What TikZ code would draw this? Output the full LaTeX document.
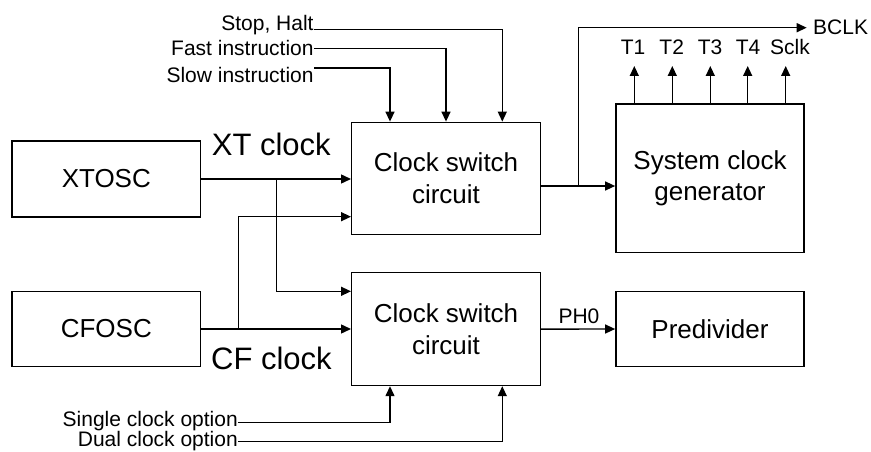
\documentclass[tikz,border=0pt]{standalone}
\usepackage{fontspec}
\setmainfont{Liberation Sans}
\usetikzlibrary{arrows.meta}
\begin{document}
\begin{tikzpicture}[x=1pt,y=-1pt,
  box/.style={draw, line width=1.4pt, inner sep=0pt, align=center, font=\fontsize{26}{31.5}\selectfont},
  arr/.style={line width=1.4pt, -{Triangle[length=10pt,width=9pt]}},
  small/.style={inner sep=0pt, font=\fontsize{21}{25}\selectfont},
  big/.style={inner sep=0pt, font=\fontsize{31}{37}\selectfont}]
\useasboundingbox (0,0) rectangle (871,452);
% boxes
\node[box, minimum width=188.7pt, minimum height=76pt] (xt) at (106.3,179) {XTOSC};
\node[box, minimum width=188.7pt, minimum height=75.4pt] (cf) at (106.3,329) {CFOSC};
\node[box, minimum width=188.6pt, minimum height=112pt] (cs1) at (446,178.3) {Clock switch\\circuit};
\node[box, minimum width=188.6pt, minimum height=112.8pt] (cs2) at (446,329.1) {Clock switch\\circuit};
\node[box, minimum width=188.3pt, minimum height=148.7pt] (scg) at (710,178.3) {System clock\\generator};
\node[box, minimum width=188.3pt, minimum height=75.4pt] (pred) at (710,329) {Predivider};
% labels
\node[big, anchor=base west] (xtl) at (211.7,155) {XT clock};
\node[big, anchor=base west] (cfl) at (211,369.3) {CF clock};
\node[small, anchor=base east] (sh) at (313.8,30.3) {Stop, Halt};
\node[small, anchor=base east] (fi) at (313.8,55.2) {Fast instruction};
\node[small, anchor=base east] (si) at (313.8,82.1) {Slow instruction};
\node[small, anchor=base east] (sc) at (238,426) {Single clock option};
\node[small, anchor=base east] (dc) at (238,446.5) {Dual clock option};
\node[small, anchor=base west] (bl) at (813,34.3) {BCLK};
\node[small, anchor=base west] (ph) at (558.3,323.3) {PH0};
\node[small, anchor=base] (l1) at (633,55) {T1};
\node[small, anchor=base] (l2) at (671.7,55) {T2};
\node[small, anchor=base] (l3) at (710,55) {T3};
\node[small, anchor=base] (l4) at (748,55) {T4};
\node[small, anchor=base] (l5) at (790,55) {Sclk};
% coordinates
\coordinate (j1) at (276.3,179);
\coordinate (j2) at (238.7,329);
\coordinate (j3) at (578.3,186);
\coordinate (bclk) at (806.7,27.7);
\coordinate (pSH) at (314,29.3);
\coordinate (pFI) at (314,48.6);
\coordinate (pSI) at (314,68);
\coordinate (pSC) at (238,422.7);
\coordinate (pDC) at (238,441.7);
\coordinate (t1) at (634.3,66);
\coordinate (t2) at (672.3,66);
\coordinate (t3) at (710.3,66);
\coordinate (t4) at (747.7,66);
\coordinate (t5) at (785.7,66);
% connectors
\draw[arr] (xt.east) -- (xt.east -| cs1.west);
\draw[arr] (cf.east) -- (cf.east -| cs2.west);
\draw[arr] (j1) |- ([yshift=37.8pt]cs2.west);
\draw[arr] (j2) |- ([yshift=-38.4pt]cs1.west);
\draw[arr] ([yshift=-7.7pt]cs1.east) -- ([yshift=-7.7pt]scg.west);
\draw[arr] (j3) |- (bclk);
\draw[arr] (pSH) -| ([xshift=56.3pt]cs1.north);
\draw[arr] (pFI) -| (cs1.north);
\draw[arr] (pSI) -| ([xshift=-56pt]cs1.north);
\draw[arr] (pSC) -| ([xshift=-56pt]cs2.south);
\draw[arr] (pDC) -| ([xshift=56.3pt]cs2.south);
\foreach \t in {t1,t2,t3,t4,t5} \draw[arr] (\t |- scg.north) -- (\t);
\draw[arr] (cs2.east) -- (pred.west);
\end{tikzpicture}
\end{document}
